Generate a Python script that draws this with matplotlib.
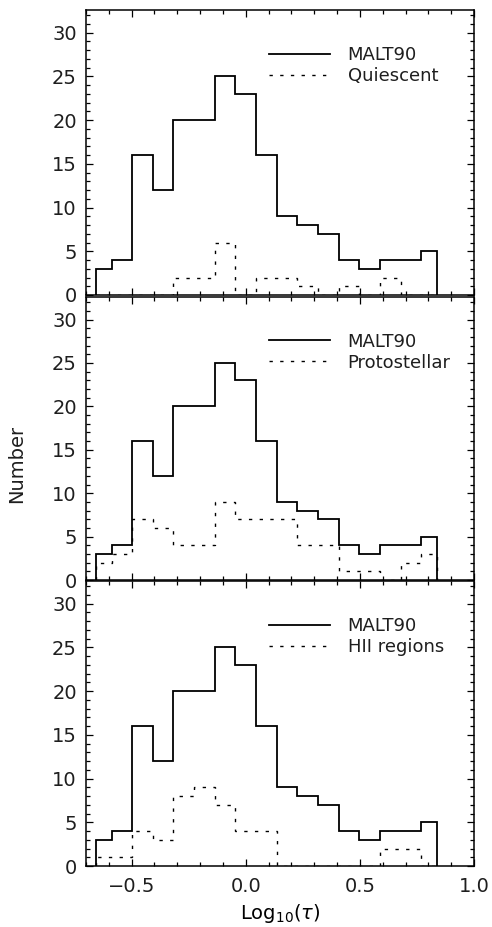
"""Histograms of log optical depth: MALT90 sample vs. three evolutionary classes."""

import matplotlib

matplotlib.use("Agg")
import matplotlib.pyplot as plt
from matplotlib.ticker import MultipleLocator, NullFormatter

plt.rcParams.update(
    {
        "font.family": "DejaVu Sans",
        "font.size": 14,
        "mathtext.fontset": "dejavusans",
        "text.color": "#1e1e1e",
        "xtick.labelcolor": "#1e1e1e",
        "ytick.labelcolor": "#1e1e1e",
        "axes.linewidth": 1.1,
        "xtick.major.width": 0.9,
        "ytick.major.width": 0.9,
        "xtick.minor.width": 0.9,
        "ytick.minor.width": 0.9,
        "xtick.major.size": 5.0,
        "ytick.major.size": 5.0,
        "xtick.minor.size": 2.8,
        "ytick.minor.size": 2.8,
    }
)

# bin edges in log10(tau)
edges = [-0.655, -0.586, -0.498, -0.407, -0.317, -0.226, -0.136, -0.045, 0.045,
         0.136, 0.226, 0.317, 0.407, 0.498, 0.588, 0.679, 0.768, 0.838]

malt90 = [3, 4, 16, 12, 20, 20, 25, 23, 16, 9, 8, 7, 4, 3, 4, 4, 5]
quiescent = [0, 0, 0, 0, 2, 2, 6, 0, 2, 2, 1, 0, 1, 0, 2, 0, 0]
protostellar = [2, 3, 7, 6, 4, 4, 9, 7, 7, 7, 4, 4, 1, 1, 0, 2, 3]
hii_regions = [1, 1, 4, 3, 8, 9, 7, 4, 4, 0, 0, 0, 0, 0, 2, 2, 0]

subsets = [("Quiescent", quiescent), ("Protostellar", protostellar), ("HII regions", hii_regions)]

W, H = 492, 927
panel_px = [(10, 295), (297, 580), (581, 866)]
left_px, right_px = 86, 474

DOTTED = (0, (2.4, 5.3))

fig = plt.figure(figsize=(W / 100, H / 100), dpi=100)

for i, ((name, counts), (top, bot)) in enumerate(zip(subsets, panel_px)):
    ax = fig.add_axes([left_px / W, 1 - bot / H, (right_px - left_px) / W, (bot - top) / H])
    ax.stairs(malt90, edges, baseline=0, fill=False, color="black", lw=1.3, label="MALT90")
    ax.stairs(counts, edges, baseline=0, fill=False, color="black", lw=1.0,
              linestyle=DOTTED, label=name)
    ax.set_xlim(-0.7, 1.0)
    ax.set_ylim(0, 32.6)
    ax.xaxis.set_major_locator(MultipleLocator(0.5))
    ax.xaxis.set_minor_locator(MultipleLocator(0.1))
    ax.yaxis.set_major_locator(MultipleLocator(5))
    ax.yaxis.set_minor_locator(MultipleLocator(1))
    ax.tick_params(which="both", direction="in", top=True, right=True)
    ax.tick_params(axis="y", pad=6.5, labelsize=14)
    ax.tick_params(axis="x", pad=8, labelsize=14)
    if i < 2:
        ax.xaxis.set_major_formatter(NullFormatter())
    else:
        ax.set_xticks([-0.5, 0.0, 0.5, 1.0])
        ax.set_xticklabels(["\u22120.5", "0.0", "0.5", "1.0"])
        ax.set_xlabel(r"Log$_{10}$($\tau$)", fontsize=14, labelpad=4)
    ax.legend(loc="upper left", bbox_to_anchor=(0.4716, 0.874), frameon=False,
              fontsize=13, handlelength=3.4, handletextpad=0.95, labelspacing=0.17,
              borderpad=0, borderaxespad=0)

fig.text(17 / W, 0.5, "Number", rotation=90, ha="center", va="center", fontsize=14)

fig.savefig("out.png", dpi=100)
